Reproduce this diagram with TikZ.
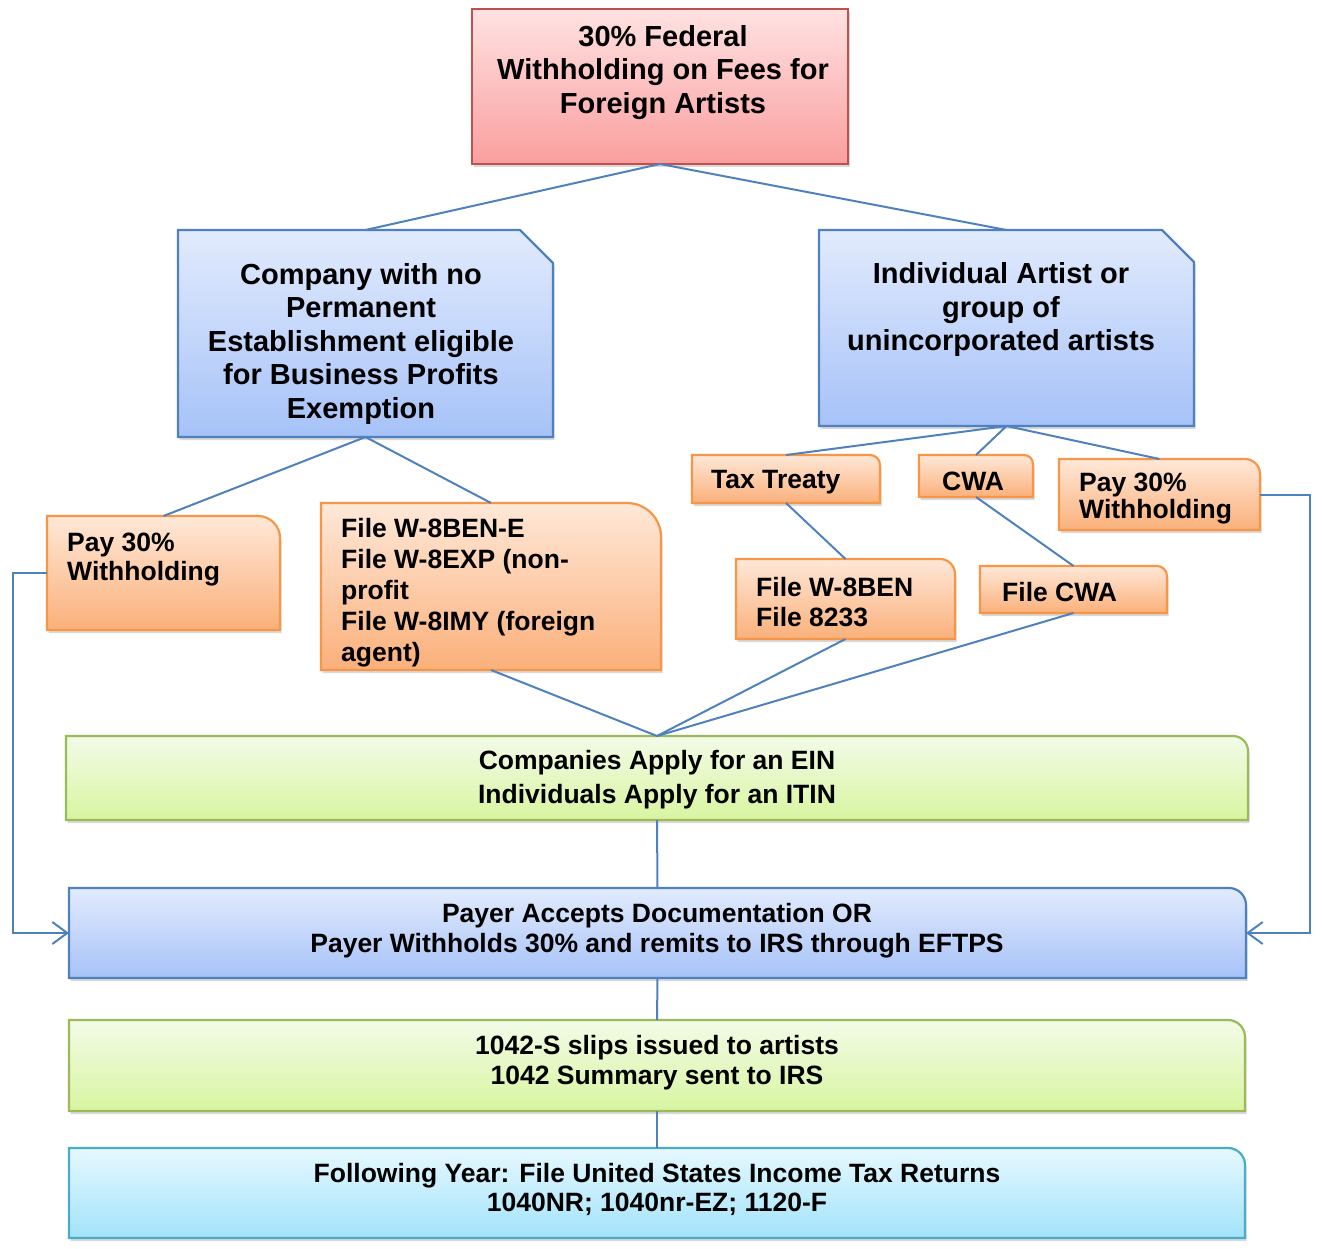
\documentclass[tikz,border=0pt]{standalone}
\usepackage{fontspec}
\setmainfont{Liberation Sans}
\usetikzlibrary{shadows,arrows.meta}
\definecolor{lnblue}{HTML}{4F81BD}
\definecolor{redT}{HTML}{FFE2E2}
\definecolor{redB}{HTML}{FA9E9E}
\definecolor{redD}{HTML}{C0504D}
\definecolor{bluT}{HTML}{E2EBFD}
\definecolor{bluB}{HTML}{A6C2F8}
\definecolor{bluD}{HTML}{4F81BD}
\definecolor{orgT}{HTML}{FFE8D8}
\definecolor{orgB}{HTML}{FAB07A}
\definecolor{orgD}{HTML}{F79646}
\definecolor{grnT}{HTML}{F3FBE8}
\definecolor{grnB}{HTML}{D8F5A0}
\definecolor{grnD}{HTML}{9BBB59}
\definecolor{cyaT}{HTML}{E6F8FE}
\definecolor{cyaB}{HTML}{A2E3FA}
\definecolor{cyaD}{HTML}{4BACC6}
\newcommand{\plainshape}[2]{\path[#2] (#1.south west) rectangle (#1.north east);}
\newcommand{\snipshape}[3]{\path[#3] (#1.south west) -- (#1.north west) -- ([xshift=-#2]#1.north east) -- ([yshift=-#2]#1.north east) -- (#1.south east) -- cycle;}
\newcommand{\rtrshape}[3]{\path[#3] (#1.south west) -- (#1.north west) -- ([xshift=-#2]#1.north east) arc[start angle=90,end angle=0,radius=#2] -- (#1.south east) -- cycle;}
\tikzset{
  box/.style={draw=none, fill=none, inner sep=0pt, outer sep=0pt, rectangle},
  shad/.style={drop shadow={shadow xshift=1.5pt, shadow yshift=-3pt, opacity=0.3}},
  redsh/.style={top color=redT, bottom color=redB, draw=redD, line width=2.2pt, shad},
  blush/.style={top color=bluT, bottom color=bluB, draw=bluD, line width=2.2pt, shad},
  orgsh/.style={top color=orgT, bottom color=orgB, draw=orgD, line width=2.2pt, shad},
  grnsh/.style={top color=grnT, bottom color=grnB, draw=grnD, line width=2.2pt, shad},
  cyash/.style={top color=cyaT, bottom color=cyaB, draw=cyaD, line width=2.2pt, shad},
  bigtxt/.style={inner sep=0pt, align=center, font=\fontsize{29}{33.5}\selectfont\bfseries},
  ltxt/.style={inner sep=0pt, align=left, anchor=west, font=\fontsize{26.5}{#1}\selectfont\bfseries},
  ctxt/.style={inner sep=0pt, align=center, font=\fontsize{26.5}{#1}\selectfont\bfseries},
  conn/.style={draw=lnblue, line width=2pt},
  barb/.style={-{Straight Barb[length=15pt,width=22pt,line width=2pt]}}
}
\begin{document}
\begin{tikzpicture}[x=1pt,y=-1pt]
\useasboundingbox (0,0) rectangle (1322,1249);
% box outlines (named)
\node[box, minimum width=376pt, minimum height=155pt] (top) at (660,86.5) {};
\node[box, minimum width=375pt, minimum height=207pt] (blueL) at (365.5,333.5) {};
\node[box, minimum width=375pt, minimum height=196pt] (blueR) at (1006.5,328) {};
\node[box, minimum width=233pt, minimum height=114pt] (payL) at (163.5,573) {};
\node[box, minimum width=340pt, minimum height=167pt] (w8e) at (491,586.5) {};
\node[box, minimum width=188pt, minimum height=48pt] (tax) at (786,479) {};
\node[box, minimum width=114pt, minimum height=42pt] (cwa) at (976,476) {};
\node[box, minimum width=201pt, minimum height=71pt] (payR) at (1159.5,494.5) {};
\node[box, minimum width=219pt, minimum height=80pt] (w8ben) at (845.5,599) {};
\node[box, minimum width=187pt, minimum height=47pt] (fcwa) at (1073.5,589.5) {};
\node[box, minimum width=1182pt, minimum height=84pt] (ein) at (657,778) {};
\node[box, minimum width=1177pt, minimum height=90pt] (payer) at (657.5,933) {};
\node[box, minimum width=1176pt, minimum height=91pt] (s1042) at (657,1065.5) {};
\node[box, minimum width=1176pt, minimum height=90pt] (follow) at (657,1193) {};
% shapes
\plainshape{top}{redsh}
\snipshape{blueL}{33pt}{blush}
\snipshape{blueR}{32pt}{blush}
\rtrshape{payL}{22pt}{orgsh}
\rtrshape{w8e}{34pt}{orgsh}
\rtrshape{tax}{10pt}{orgsh}
\rtrshape{cwa}{9pt}{orgsh}
\rtrshape{payR}{15pt}{orgsh}
\rtrshape{w8ben}{15pt}{orgsh}
\rtrshape{fcwa}{10pt}{orgsh}
\rtrshape{ein}{15pt}{grnsh}
\rtrshape{payer}{17pt}{blush}
\rtrshape{s1042}{17pt}{grnsh}
\rtrshape{follow}{17pt}{cyash}
% texts
\node[bigtxt] (ttop) at (663,72.5) {30\% Federal\\Withholding on Fees for\\Foreign Artists};
\node[bigtxt] (tblueL) at (361,344) {Company with no\\Permanent\\Establishment eligible\\for Business Profits\\Exemption};
\node[bigtxt] (tblueR) at (1001,310) {Individual Artist or\\group of\\unincorporated artists};
\node[ltxt=29] (tpayL) at (67,559.5) {Pay 30\%\\Withholding};
\node[ltxt=31] (tw8e) at (341,593) {File W-8BEN-E\\File W-8EXP (non-\\profit\\File W-8IMY (foreign\\agent)};
\node[ltxt=30] (ttax) at (711,482.5) {Tax Treaty};
\node[ltxt=30] (tcwa) at (942,481.5) {CWA};
\node[ltxt=27] (tpayR) at (1079,498.5) {Pay 30\%\\Withholding};
\node[ltxt=30] (tw8ben) at (756,602) {File W-8BEN\\File 8233};
\node[ltxt=30] (tfcwa) at (1002,592) {File CWA};
\node[ctxt=34] (tein) at (657,780) {Companies Apply for an EIN\\Individuals Apply for an ITIN};
\node[ctxt=30] (tpayer) at (657,931) {Payer Accepts Documentation OR\\Payer Withholds 30\% and remits to IRS through EFTPS};
\node[ctxt=30] (t1042) at (657,1063) {1042-S slips issued to artists\\1042 Summary sent to IRS};
\node[ctxt=29] (tfollow) at (657,1189.5) {Following Year: File United States Income Tax Returns\\1040NR; 1040nr-EZ; 1120-F};
% connectors
\draw[conn] (top.south) -- (blueL.north);
\draw[conn] (top.south) -- (blueR.north);
\draw[conn] (blueL.south) -- (payL.north);
\draw[conn] (blueL.south) -- (w8e.north);
\draw[conn] (blueR.south) -- (tax.north);
\draw[conn] (blueR.south) -- (cwa.north);
\draw[conn] (blueR.south) -- (payR.north);
\draw[conn] (tax.south) -- (w8ben.north);
\draw[conn] (cwa.south) -- (fcwa.north);
\draw[conn] (w8e.south) -- (ein.north);
\draw[conn] (w8ben.south) -- (ein.north);
\draw[conn] (fcwa.south) -- (ein.north);
\draw[conn] (ein.south) -- (payer.north);
\draw[conn] (payer.south) -- (s1042.north);
\draw[conn] (s1042.south) -- (follow.north);
\draw[conn, barb] (payL.west) -- ++(-34,0) |- (payer.west);
\draw[conn, barb] (payR.east) -- ++(50,0) |- (payer.east);
\end{tikzpicture}
\end{document}
